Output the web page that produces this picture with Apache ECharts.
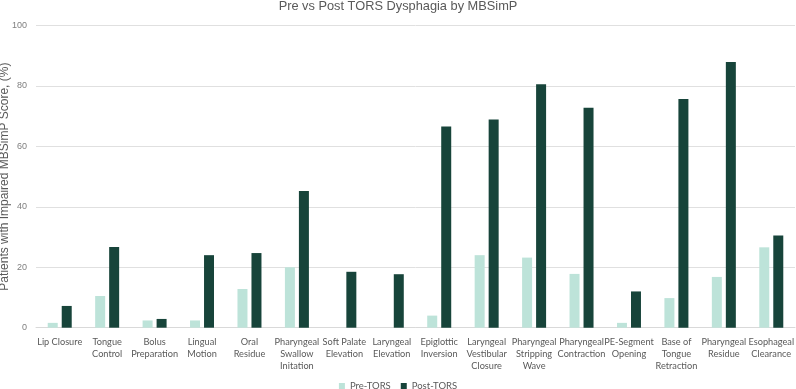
<!DOCTYPE html>
<html>
<head>
<meta charset="utf-8">
<script src="https://cdn.jsdelivr.net/npm/echarts@6/dist/echarts.min.js"></script>
<style>html,body{margin:0;padding:0;background:#fff}#c{width:796px;height:389px}</style>
</head>
<body>
<div id="c"></div>
<script>
const categories = ["Lip Closure","Tongue\nControl","Bolus\nPreparation","Lingual\nMotion","Oral\nResidue","Pharyngeal\nSwallow\nInitation","Soft Palate\nElevation","Laryngeal\nElevation","Epiglottic\nInversion","Laryngeal\nVestibular\nClosure","Pharyngeal\nStripping\nWave","Pharyngeal\nContraction","PE-Segment\nOpening","Base of\nTongue\nRetraction","Pharyngeal\nResidue","Esophageal\nClearance"];
const preTORS = [1.6, 10.5, 2.4, 2.4, 12.8, 20.0, 0, 0, 4.0, 24.0, 23.2, 17.8, 1.6, 9.8, 16.8, 26.6];
const postTORS = [7.2, 26.7, 2.9, 24.0, 24.7, 45.2, 18.5, 17.7, 66.6, 68.9, 80.6, 72.8, 12.0, 75.7, 87.9, 30.5];
const seriesNames = ["Pre-TORS", "Post-TORS"];

const chart = echarts.init(document.getElementById('c'), null, {renderer: 'canvas'});
chart.setOption({
  animation: false,
  title: {
    text: 'Pre vs Post TORS Dysphagia by MBSimP',
    left: 'center', top: 0, padding: 0,
    textStyle: {fontFamily: 'Liberation Sans', fontSize: 12.8, fontWeight: 'normal', color: '#595959'}
  },
  legend: {
    top: 376, left: 'center',
    itemWidth: 6, itemHeight: 6, itemGap: 10, icon: 'rect',
    textStyle: {fontFamily: 'Lato', fontSize: 9.5, color: '#595959'},
    data: seriesNames
  },
  grid: {left: 36, right: 1, top: 25.5, bottom: 61.3, containLabel: false, outerBoundsMode: 'none'},
  xAxis: {
    type: 'category', data: categories,
    axisLine: {show: true, lineStyle: {color: '#d9d9d9'}},
    axisTick: {show: false},
    axisLabel: {interval: 0, fontFamily: 'Lato', fontSize: 9.2, color: '#595959', lineHeight: 12, margin: 8}
  },
  yAxis: {
    type: 'value', min: 0, max: 100, interval: 20,
    name: 'Patients with Impaired MBSimP Score, (%)',
    nameLocation: 'middle', nameGap: 25, nameMoveOverlap: false,
    nameTextStyle: {fontFamily: 'Liberation Sans', fontSize: 12, color: '#595959'},
    axisLine: {show: false}, axisTick: {show: false},
    axisLabel: {fontFamily: 'Liberation Sans', fontSize: 9, color: '#7f7f7f', margin: 9},
    splitLine: {lineStyle: {color: '#e0e0e0', width: 1}}
  },
  series: [
    {name: seriesNames[0], type: 'bar', data: preTORS, barWidth: 10, barGap: '40%',
     itemStyle: {color: '#bde3d9'}},
    {name: seriesNames[1], type: 'bar', data: postTORS, barWidth: 10,
     itemStyle: {color: '#17443a'}}
  ]
});
</script>
</body>
</html>
